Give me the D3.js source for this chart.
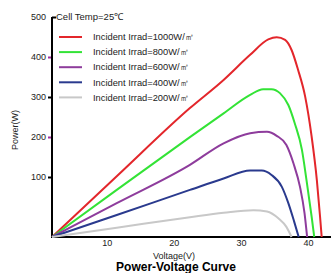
<!DOCTYPE html>
<html>
<head>
<meta charset="utf-8">
<script src="https://cdn.jsdelivr.net/npm/d3@7"></script>
<style>
	body { margin: 0; background: #fff; }
	svg { display: block; font-family: "Liberation Sans", Arial, sans-serif; }
</style>
</head>
<body>
<div id="chart"></div>
<script>
// DATA
const seriesNames = [
	'Incident Irrad=1000W/㎡',
	'Incident Irrad=800W/㎡',
	'Incident Irrad=600W/㎡',
	'Incident Irrad=400W/㎡',
	'Incident Irrad=200W/㎡'
];
const seriesColours = ['#e3262b', '#33e336', '#8e3c9c', '#2a3a8e', '#c8c8c8'];

// voltage (V) / power (W)
const v1000 = [0, 10, 21.3, 26.5, 30.6, 33.4, 34.7, 36.0, 37.0, 38.0, 39.1, 40.1, 40.9, 41.4, 41.65];
const p1000 = [0, 138, 293, 357, 414, 449, 454, 448, 425, 380, 319, 228, 130, 46, 0];
const v800 = [0, 10, 21.3, 26.5, 30.6, 32.6, 33.9, 35.2, 36.5, 37.5, 38.6, 39.3, 40.1, 40.5];
const p800 = [0, 107, 227, 281, 323, 336, 336, 327, 300, 258, 198, 130, 46, 0];
const v600 = [0, 10, 21.3, 26.5, 30.6, 33.2, 34.7, 36.2, 37.3, 38.3, 39.0, 39.4];
const p600 = [0, 77, 164, 213, 236, 239, 230, 209, 167, 114, 54, 0];
const v400 = [0, 10, 21.3, 26.5, 30.6, 32.4, 33.9, 35.5, 36.5, 37.4, 38.1];
const p400 = [0, 50, 107, 133, 151, 151, 141, 114, 77, 35, 0];
const v200 = [0, 10, 21.3, 26.5, 31.1, 33.2, 35.0, 36.2, 37.0];
const p200 = [0, 21, 45, 55, 61, 58, 42, 23, 0];

const voltages = [v1000, v800, v600, v400, v200];
const powers = [p1000, p800, p600, p400, p200];

const xTicks = [10, 20, 30, 40];
const yTicks = [100, 200, 300, 400, 500];
const yTickColours = ['#000', '#a0309f', '#000', '#a0309f', '#000'];

// LAYOUT
const width = 331, height = 273;
const origin = { x: 52, y: 237 };
const plotTop = 17;

const svg = d3.select('#chart')
	.append('svg')
	.attr('width', width)
	.attr('height', height);

// plot scales (curves start at the drawn origin)
const xScale = d3.scaleLinear().domain([0, 40]).range([origin.x, 311]);
const yScale = d3.scaleLinear().domain([0, 500]).range([origin.y, plotTop]);

// printed tick labels sit a little off the plot origin in the original
const xLabelScale = d3.scaleLinear().domain([0, 40]).range([39.5, 308]);
const yLabelScale = d3.scaleLinear().domain([0, 500]).range([217, plotTop]);

// axes
svg.append('g')
	.attr('transform', `translate(0,${origin.y})`)
	.call(d3.axisBottom(xLabelScale).tickValues(xTicks).tickSize(0).tickPadding(3))
	.call(g => g.select('.domain').remove())
	.call(g => g.selectAll('text').attr('fill', '#222').style('font-size', '9px'));

svg.append('g')
	.attr('transform', `translate(${origin.x},0)`)
	.call(d3.axisLeft(yLabelScale).tickValues(yTicks).tickSize(4).tickPadding(2))
	.call(g => g.select('.domain').remove())
	.call(g => g.selectAll('.tick line')
		.attr('stroke', (d, i) => yTickColours[i])
		.attr('stroke-width', 2)
		.attr('x2', d => d === 500 ? 4 : -4))
	.call(g => g.selectAll('.tick text')
		.attr('x', -6)
		.attr('fill', '#222')
		.style('font-size', '9px'));

// axis lines
svg.append('path')
	.attr('d', `M${origin.x},${plotTop}V${origin.y}H${width}`)
	.attr('fill', 'none')
	.attr('stroke', '#000')
	.attr('stroke-width', 2);

// curves
const line = d3.line()
	.x(d => xScale(d[0]))
	.y(d => yScale(d[1]))
	.curve(d3.curveMonotoneX);

voltages.forEach((vs, i) => {
	const pts = vs.map((v, j) => [v, powers[i][j]]);
	svg.append('path')
		.datum(pts)
		.attr('fill', 'none')
		.attr('stroke', seriesColours[i])
		.attr('stroke-width', 2)
		.attr('d', line);
});

// legend
svg.append('text')
	.attr('x', 56)
	.attr('y', plotTop)
	.attr('dy', '0.35em')
	.attr('fill', '#222')
	.style('font-size', '9.5px')
	.text('Cell Temp=25℃');

const legend = svg.append('g')
	.selectAll('g')
	.data(seriesNames)
	.join('g')
	.attr('transform', (d, i) => `translate(59,${37 + i * 15.1})`);

legend.append('line')
	.attr('x2', 23)
	.attr('stroke', (d, i) => seriesColours[i])
	.attr('stroke-width', 2);

legend.append('text')
	.attr('x', 34)
	.attr('dy', '0.35em')
	.attr('fill', '#222')
	.style('font-size', '9.3px')
	.text(d => d);

// titles
svg.append('text')
	.attr('transform', 'translate(15,130) rotate(-90)')
	.attr('text-anchor', 'middle')
	.attr('dy', '0.35em')
	.attr('fill', '#222')
	.style('font-size', '9px')
	.text('Power(W)');

svg.append('text')
	.attr('x', 174)
	.attr('y', 256)
	.attr('text-anchor', 'middle')
	.attr('dy', '0.35em')
	.attr('fill', '#222')
	.style('font-size', '9px')
	.text('Voltage(V)');

svg.append('text')
	.attr('x', 176)
	.attr('y', 271)
	.attr('text-anchor', 'middle')
	.attr('fill', '#000')
	.style('font-size', '12px')
	.style('font-weight', 'bold')
	.text('Power-Voltage Curve');
</script>
</body>
</html>
